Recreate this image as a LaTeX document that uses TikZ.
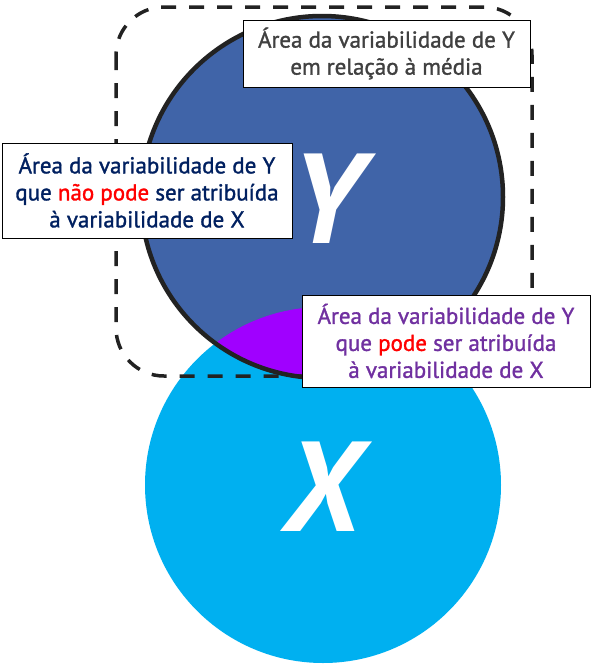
\documentclass[tikz,border=0pt]{standalone}
\usepackage{fontspec}
\setmainfont{PT Sans}
\newfontfamily\labelfont[BoldFont={PT Sans}, BoldFeatures={FakeBold=1.3}]{PT Sans}
\usetikzlibrary{positioning}
\definecolor{ycolor}{RGB}{64,100,168}
\definecolor{xcolor}{RGB}{0,176,240}
\definecolor{overlapcolor}{RGB}{160,0,255}
\definecolor{navytext}{RGB}{0,32,96}
\definecolor{purpletext}{RGB}{112,48,160}
\definecolor{graytext}{RGB}{64,64,64}
\definecolor{darkline}{RGB}{34,34,34}

\begin{document}
\begin{tikzpicture}[x=1pt, y=-1pt,
    infobox/.style={draw, fill=white, line width=0.9pt, align=center, inner sep=0pt, font=\fontsize{23}{27}\selectfont\labelfont\bfseries},
    bigletter/.style={text=white, inner sep=0pt, font=\fontsize{128}{128}\selectfont\bfseries\itshape}
]
\useasboundingbox (0,0) rectangle (595,667);

% Circles
\fill[xcolor] (323,485) circle[radius=178pt];
\fill[ycolor] (322,197) circle[radius=181pt];
\begin{scope}
    \clip (322,197) circle[radius=181pt];
    \fill[overlapcolor] (323,485) circle[radius=178pt];
\end{scope}
\draw[darkline, line width=4.5pt] (322,197) circle[radius=181pt];

% Letters
\node[bigletter] (yletter) at (327,199) {Y};
\node[bigletter] (xletter) at (322,487) {X};

% Total variability
\draw[darkline, line width=3.5pt, dash pattern=on 15pt off 13pt, rounded corners=48pt] (116,7) rectangle (532,376);

% Labels
\node[infobox, text=graytext, minimum width=287pt, minimum height=67pt] (total) at (386.5,53.5)
    {Área da variabilidade de Y\\em relação à média};
\node[infobox, text=navytext, minimum width=290pt, minimum height=95pt] (unexplained) at (147,190.5)
    {Área da variabilidade de Y\\que \textcolor{red}{não pode} ser atribuída\\à variabilidade de X};
\node[infobox, text=purpletext, minimum width=288pt, minimum height=92pt] (explained) at (446,341)
    {Área da variabilidade de Y\\que \textcolor{red}{pode} ser atribuída\\à variabilidade de X};

\end{tikzpicture}
\end{document}
